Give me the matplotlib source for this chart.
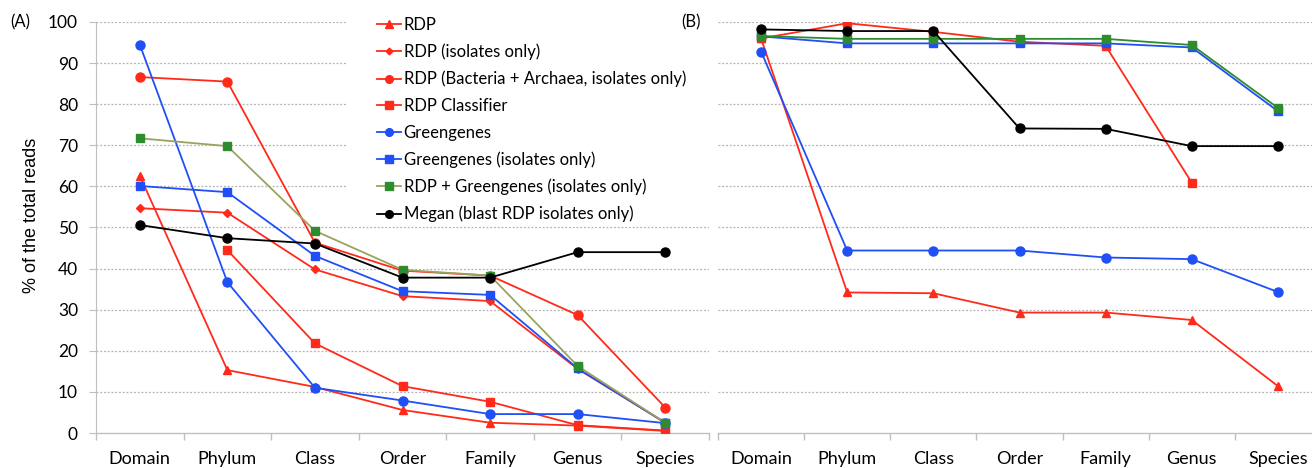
import numpy as np
import matplotlib
matplotlib.use("Agg")
import matplotlib.pyplot as plt
from matplotlib.patches import Rectangle

nan = np.nan
categories = ['Domain', 'Phylum', 'Class', 'Order', 'Family', 'Genus', 'Species']
yticks = [0, 10, 20, 30, 40, 50, 60, 70, 80, 90, 100]

# Panel A
rdp_a = [62.6, 15.3, 11.2, 5.6, 2.5, 1.8, 0.5]
rdp_iso_a = [54.7, 53.6, 39.8, 33.3, 32.1, 15.6, 2.5]
rdp_ba_a = [86.6, 85.5, 46.3, 39.5, 38.3, 28.7, 6.2]
rdp_cls_a = [nan, 44.5, 21.8, 11.4, 7.6, 1.9, 0.6]
gg_a = [94.5, 36.7, 11.0, 7.9, 4.6, 4.6, 2.4]
gg_iso_a = [60.1, 58.6, 43.1, 34.5, 33.6, 15.7, 2.5]
rdpgg_a = [71.7, 69.8, 49.2, 39.7, 38.3, 16.3, 2.5]
megan_a = [50.6, 47.4, 46.1, 37.8, 37.8, 44.0, 44.0]

# Panel B
rdp_b = [96.0, 34.2, 34.0, 29.3, 29.3, 27.5, 11.4]
gg_b = [92.8, 44.4, 44.4, 44.4, 42.7, 42.3, 34.3]
rdp_cls_b = [96.0, 99.7, 97.6, 95.2, 94.2, 60.9, nan]
gg_iso_b = [96.5, 94.8, 94.8, 94.8, 94.8, 93.8, 78.3]
rdpgg_b = [96.6, 95.9, 95.9, 95.9, 95.9, 94.4, 79.1]
megan_b = [98.2, 97.8, 97.8, 74.1, 74.0, 69.8, 69.8]

labels = ['RDP', 'RDP (isolates only)', 'RDP (Bacteria + Archaea, isolates only)',
          'RDP Classifier', 'Greengenes', 'Greengenes (isolates only)',
          'RDP + Greengenes (isolates only)', 'Megan (blast RDP isolates only)']

RED = '#ff2a1a'
BLUE = '#1f4ff5'
OLIVE = '#9aa35e'
GREEN = '#2e8b2e'
BLACK = '#000000'

styles = [
    dict(color=RED, marker='^', ms=6),
    dict(color=RED, marker='D', ms=4),
    dict(color=RED, marker='o', ms=6.5),
    dict(color=RED, marker='s', ms=6),
    dict(color=BLUE, marker='o', ms=6.5),
    dict(color=BLUE, marker='s', ms=6),
    dict(color=OLIVE, marker='s', ms=6, mfc=GREEN, mec=GREEN),
    dict(color=BLACK, marker='o', ms=6.5),
]

plt.rcParams['font.family'] = ['Lato', 'DejaVu Sans']

W, H = 1312, 468
fig = plt.figure(figsize=(W / 100, H / 100), dpi=100)

def px_axes(x0, x1, ytop, ybot):
    return fig.add_axes([x0 / W, 1 - ybot / H, (x1 - x0) / W, (ybot - ytop) / H])

axA = px_axes(96, 709, 22, 433)
axB = px_axes(718, 1321, 22, 433)

x = np.arange(len(categories))
dataA = [rdp_a, rdp_iso_a, rdp_ba_a, rdp_cls_a, gg_a, gg_iso_a, rdpgg_a, megan_a]
dataB = [rdp_b, None, None, rdp_cls_b, gg_b, gg_iso_b, rdpgg_b, megan_b]

handles = []
for i, (d, st) in enumerate(zip(dataA, styles)):
    kw = dict(st)
    c = kw.pop('color')
    ms = kw.pop('ms')
    mfc = kw.pop('mfc', c)
    mec = kw.pop('mec', c)
    h, = axA.plot(x, d, color=c, lw=1.3, marker=kw['marker'], ms=ms,
                  mfc=mfc, mec=mec, zorder=3 + i)
    handles.append(h)

for i, (d, st) in enumerate(zip(dataB, styles)):
    if d is None:
        continue
    kw = dict(st)
    c = kw.pop('color')
    ms = kw.pop('ms')
    mfc = kw.pop('mfc', c)
    mec = kw.pop('mec', c)
    if c == OLIVE:
        c = GREEN
    axB.plot(x, d, color=c, lw=1.3, marker=kw['marker'], ms=ms,
             mfc=mfc, mec=mec, zorder=3 + i)

GRID = '#b3b3b3'
SPINE = '#bfbfbf'
for ax in (axA, axB):
    ax.set_xlim(-0.5, len(categories) - 0.5)
    ax.set_ylim(0, 100)
    ax.set_yticks(yticks)
    ax.set_xticks(x)
    ax.set_xticklabels(categories, fontsize=13)
    ax.set_xticks(np.arange(-0.5, len(categories), 1.0), minor=True)
    ax.tick_params(axis='x', which='major', length=0, pad=13)
    ax.tick_params(axis='x', which='minor', length=5, color=SPINE, width=1)
    for yv in yticks[1:]:
        ax.axhline(yv, color=GRID, lw=0.9, ls=(0, (1.5, 1.5)), zorder=1)
    for s in ('top', 'right'):
        ax.spines[s].set_visible(False)
    ax.spines['bottom'].set_color(SPINE)
    ax.spines['bottom'].set_linewidth(1.0)
    ax.spines['bottom'].set_zorder(2)

axA.spines['left'].set_color(SPINE)
axA.tick_params(axis='y', length=5, color=SPINE, labelsize=12.5, pad=8)
axA.set_ylabel('% of the total reads', fontsize=13, family=['Liberation Sans'])
axA.yaxis.set_label_coords((40 - 96) / 613, (433 - 215) / 411)
axB.spines['left'].set_visible(False)
axB.tick_params(axis='y', length=0, labelleft=False)

# white area behind legend
axA.add_patch(Rectangle(((347 - 96) / 613, (433 - 224) / 411), 1.1, 1.0,
                        transform=axA.transAxes, facecolor='white',
                        edgecolor='none', zorder=2, clip_on=False))

leg = fig.legend(handles, labels, loc='upper left',
                 bbox_to_anchor=(377 / W, 1 - 17 / H), frameon=False,
                 fontsize=12, handlelength=1.45, handletextpad=0.15,
                 labelspacing=0.64, borderpad=0, borderaxespad=0, markerscale=0.85)

fig.text(10 / W, 1 - 22 / H, '(A)', fontsize=12, va='center', ha='left')
fig.text(681 / W, 1 - 22 / H, '(B)', fontsize=12, va='center', ha='left')

fig.savefig('out.png', dpi=100)
